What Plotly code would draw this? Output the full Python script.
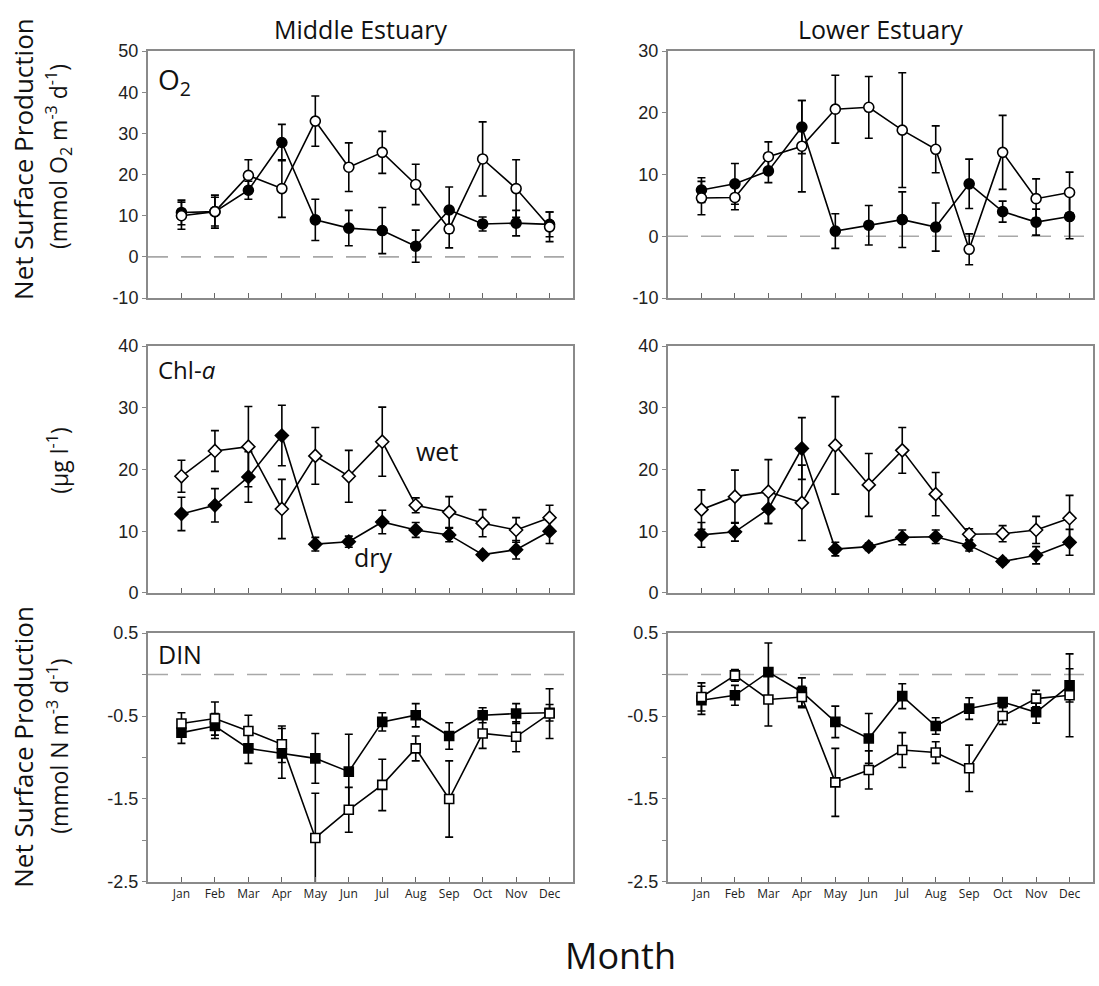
import plotly.graph_objects as go

# ---- data -------------------------------------------------------------
months = ["Jan", "Feb", "Mar", "Apr", "May", "Jun", "Jul", "Aug", "Sep", "Oct", "Nov", "Dec"]

# O2 net surface production (mmol O2 m-3 d-1)
mid_o2_wet = [10.0, 11.0, 19.8, 16.6, 33.0, 21.8, 25.4, 17.6, 6.8, 23.8, 16.6, 7.3]
mid_o2_wet_err = [3.3, 4.0, 3.8, 7.0, 6.1, 5.9, 5.1, 4.9, 4.6, 9.0, 7.0, 3.6]
mid_o2_dry = [10.8, 11.0, 16.2, 27.8, 9.0, 7.0, 6.4, 2.6, 11.4, 8.0, 8.2, 7.9]
mid_o2_dry_err = [3.0, 3.5, 2.2, 4.4, 5.0, 4.3, 5.6, 3.9, 5.6, 1.7, 3.1, 3.0]

low_o2_wet = [6.2, 6.3, 12.9, 14.6, 20.6, 20.9, 17.2, 14.1, -2.1, 13.6, 6.1, 7.1]
low_o2_wet_err = [2.7, 2.0, 2.4, 7.4, 5.5, 5.0, 9.3, 3.8, 2.5, 6.0, 3.2, 3.3]
low_o2_dry = [7.5, 8.5, 10.6, 17.7, 0.85, 1.8, 2.7, 1.5, 8.5, 4.0, 2.3, 3.2]
low_o2_dry_err = [2.0, 3.3, 1.9, 4.3, 2.8, 3.2, 4.5, 3.9, 4.0, 1.7, 2.1, 3.6]

# Chl-a (ug l-1)
mid_chl_wet = [18.9, 23.0, 23.7, 13.6, 22.2, 18.9, 24.5, 14.2, 13.1, 11.3, 10.2, 12.2]
mid_chl_wet_err = [2.6, 3.3, 6.5, 4.8, 4.6, 4.2, 5.6, 1.2, 2.5, 2.2, 2.0, 2.0]
mid_chl_dry = [12.8, 14.2, 18.8, 25.5, 7.9, 8.3, 11.5, 10.2, 9.4, 6.2, 7.0, 10.0]
mid_chl_dry_err = [2.7, 2.7, 4.1, 4.9, 1.1, 0.9, 1.9, 1.2, 1.1, 0.4, 1.5, 2.0]

low_chl_wet = [13.5, 15.6, 16.4, 14.6, 23.9, 17.5, 23.1, 16.0, 9.5, 9.6, 10.2, 12.1]
low_chl_wet_err = [3.2, 4.3, 5.2, 6.1, 7.9, 5.1, 3.7, 3.5, 0.9, 1.3, 2.2, 3.7]
low_chl_dry = [9.4, 9.9, 13.6, 23.4, 7.1, 7.5, 9.0, 9.1, 7.7, 5.1, 6.1, 8.2]
low_chl_dry_err = [2.0, 1.5, 2.3, 5.0, 1.1, 0.6, 1.2, 1.1, 0.9, 0.5, 1.4, 2.1]

# DIN net surface production (mmol N m-3 d-1)
mid_din_wet = [-0.59, -0.53, -0.68, -0.84, -1.97, -1.63, -1.33, -0.89, -1.50, -0.71, -0.75, -0.47]
mid_din_wet_err = [0.13, 0.20, 0.19, 0.22, 0.54, 0.27, 0.31, 0.15, 0.46, 0.18, 0.18, 0.30]
mid_din_dry = [-0.70, -0.62, -0.89, -0.95, -1.01, -1.17, -0.57, -0.49, -0.74, -0.49, -0.47, -0.46]
mid_din_dry_err = [0.13, 0.15, 0.18, 0.30, 0.30, 0.45, 0.11, 0.14, 0.16, 0.09, 0.12, 0.10]

low_din_wet = [-0.27, -0.01, -0.30, -0.27, -1.30, -1.15, -0.91, -0.94, -1.13, -0.50, -0.29, -0.25]
low_din_wet_err = [0.17, 0.07, 0.32, 0.13, 0.41, 0.23, 0.21, 0.13, 0.28, 0.10, 0.10, 0.50]
low_din_dry = [-0.31, -0.25, 0.03, -0.21, -0.57, -0.77, -0.26, -0.62, -0.41, -0.33, -0.455, -0.13]
low_din_dry_err = [0.17, 0.12, 0.35, 0.17, 0.19, 0.30, 0.15, 0.10, 0.13, 0.05, 0.13, 0.20]

# ---- layout helpers ---------------------------------------------------
W, H = 1099, 986
month_idx = list(range(1, 13))


def px_x(p):
    return p / W


def px_y(p):
    return 1 - p / H


col_domains = [[px_x(148), px_x(573)], [px_x(668), px_x(1093)]]
row_domains = [[px_y(294), px_y(42)], [px_y(595), px_y(343)], [px_y(890), px_y(636)]]

TICK_FONT = dict(family="Liberation Sans, Arial", size=18, color="#222")
TEXT_FONT = "Open Sans, Noto Sans, sans-serif"

panels = [
    # row, col, wet, wet_err, dry, dry_err, symbol, yrange, labelled ticks, minor tick step
    (0, 0, mid_o2_wet, mid_o2_wet_err, mid_o2_dry, mid_o2_dry_err, "circle", [-10, 50],
     [-10, 0, 10, 20, 30, 40, 50], None, True),
    (0, 1, low_o2_wet, low_o2_wet_err, low_o2_dry, low_o2_dry_err, "circle", [-10, 30],
     [-10, 0, 10, 20, 30], None, True),
    (1, 0, mid_chl_wet, mid_chl_wet_err, mid_chl_dry, mid_chl_dry_err, "diamond", [0, 40],
     [0, 10, 20, 30, 40], None, False),
    (1, 1, low_chl_wet, low_chl_wet_err, low_chl_dry, low_chl_dry_err, "diamond", [0, 40],
     [0, 10, 20, 30, 40], None, False),
    (2, 0, mid_din_wet, mid_din_wet_err, mid_din_dry, mid_din_dry_err, "square", [-2.5, 0.5],
     [0.5, -0.5, -1.5, -2.5], 1, True),
    (2, 1, low_din_wet, low_din_wet_err, low_din_dry, low_din_dry_err, "square", [-2.5, 0.5],
     [0.5, -0.5, -1.5, -2.5], 1, True),
]

marker_size = {"circle": 10, "diamond": 10, "square": 9}

fig = go.Figure()
layout = dict(
    width=W, height=H, margin=dict(l=0, r=0, t=0, b=0),
    paper_bgcolor="white", plot_bgcolor="white", showlegend=False,
)
shapes = []

for i, (r, c, wet, wet_err, dry, dry_err, sym, yr, tv, minor_step, zero) in enumerate(panels, start=1):
    xa = "x" if i == 1 else f"x{i}"
    ya = "y" if i == 1 else f"y{i}"
    ms = marker_size[sym]
    for vals, errs, fill in ((dry, dry_err, "black"), (wet, wet_err, "white")):
        fig.add_trace(go.Scatter(
            x=month_idx, y=vals, xaxis=xa, yaxis=ya, mode="lines+markers",
            line=dict(color="black", width=1.6),
            marker=dict(symbol=sym, size=ms, color=fill, line=dict(color="black", width=1.6)),
            error_y=dict(type="data", array=errs, visible=True, color="black",
                         thickness=1.6, width=4),
            hoverinfo="skip",
        ))
    layout["xaxis" if i == 1 else f"xaxis{i}"] = dict(
        domain=col_domains[c], anchor=ya, range=[0, 12.7],
        tickvals=month_idx, ticktext=months, showticklabels=(r == 2),
        ticks="inside", ticklen=5, tickcolor="#666", tickwidth=1,
        showline=True, linecolor="#8a8a8a", linewidth=2, mirror=True,
        showgrid=False, zeroline=False,
        tickfont=dict(family=TEXT_FONT, size=12, color="#222"),
    )
    yax = dict(
        domain=row_domains[r], anchor=xa, range=yr,
        tickvals=tv, ticktext=[str(v) for v in tv],
        ticks="outside", ticklen=4, tickcolor="#888", tickwidth=1,
        showline=True, linecolor="#8a8a8a", linewidth=2, mirror=True,
        showgrid=False, zeroline=False, tickfont=TICK_FONT,
    )
    if minor_step:
        yax["minor"] = dict(tick0=0, dtick=minor_step, ticks="outside", ticklen=4,
                            tickcolor="#888", showgrid=False)
    layout["yaxis" if i == 1 else f"yaxis{i}"] = yax
    if zero:
        shapes.append(dict(
            type="line", xref=f"{xa} domain", yref=ya, x0=0, x1=1, y0=0, y1=0,
            line=dict(color="#a8a8a8", width=1.6, dash="20px,13px"), layer="below",
        ))

layout["shapes"] = shapes

annotations = [
    dict(text="Middle Estuary", x=px_x(360), y=px_y(19), font=dict(family=TEXT_FONT, size=25, color="#111")),
    dict(text="Lower Estuary", x=px_x(880), y=px_y(19), font=dict(family=TEXT_FONT, size=25, color="#111")),
    dict(text="Month", x=px_x(620), y=px_y(965), font=dict(family=TEXT_FONT, size=36, color="#111")),
    dict(text="Net Surface Production", x=px_x(23), y=px_y(152), textangle=-90,
         font=dict(family=TEXT_FONT, size=26, color="#111")),
    dict(text="(mmol O<sub>2</sub> m<sup>-3</sup> d<sup>-1</sup>)", x=px_x(58), y=px_y(150), textangle=-90,
         font=dict(family=TEXT_FONT, size=23, color="#111")),
    dict(text="(µg l<sup>-1</sup>)", x=px_x(58), y=px_y(460), textangle=-90,
         font=dict(family=TEXT_FONT, size=23, color="#111")),
    dict(text="Net Surface Production", x=px_x(23), y=px_y(752), textangle=-90,
         font=dict(family=TEXT_FONT, size=26, color="#111")),
    dict(text="(mmol N m<sup>-3</sup> d<sup>-1</sup>)", x=px_x(58), y=px_y(752), textangle=-90,
         font=dict(family=TEXT_FONT, size=23, color="#111")),
    dict(text="O<sub>2</sub>", x=px_x(156), y=px_y(72), xanchor="left",
         font=dict(family=TEXT_FONT, size=28, color="#111")),
    dict(text="Chl-<i>a</i>", x=px_x(156), y=px_y(367), xanchor="left",
         font=dict(family=TEXT_FONT, size=24, color="#111")),
    dict(text="DIN", x=px_x(156), y=px_y(657), xanchor="left",
         font=dict(family=TEXT_FONT, size=25, color="#111")),
]
for a in annotations:
    a.setdefault("xanchor", "center")
    a.update(xref="paper", yref="paper", yanchor="middle", showarrow=False)

# series labels inside the middle-estuary Chl-a panel
annotations.append(dict(text="wet", x=8.64, y=23.0, xref="x3", yref="y3", showarrow=False,
                        font=dict(family=TEXT_FONT, size=25, color="#111")))
annotations.append(dict(text="dry", x=6.73, y=5.8, xref="x3", yref="y3", showarrow=False,
                        font=dict(family=TEXT_FONT, size=25, color="#111")))
layout["annotations"] = annotations

fig.update_layout(**layout)
fig.write_html("out.html")
